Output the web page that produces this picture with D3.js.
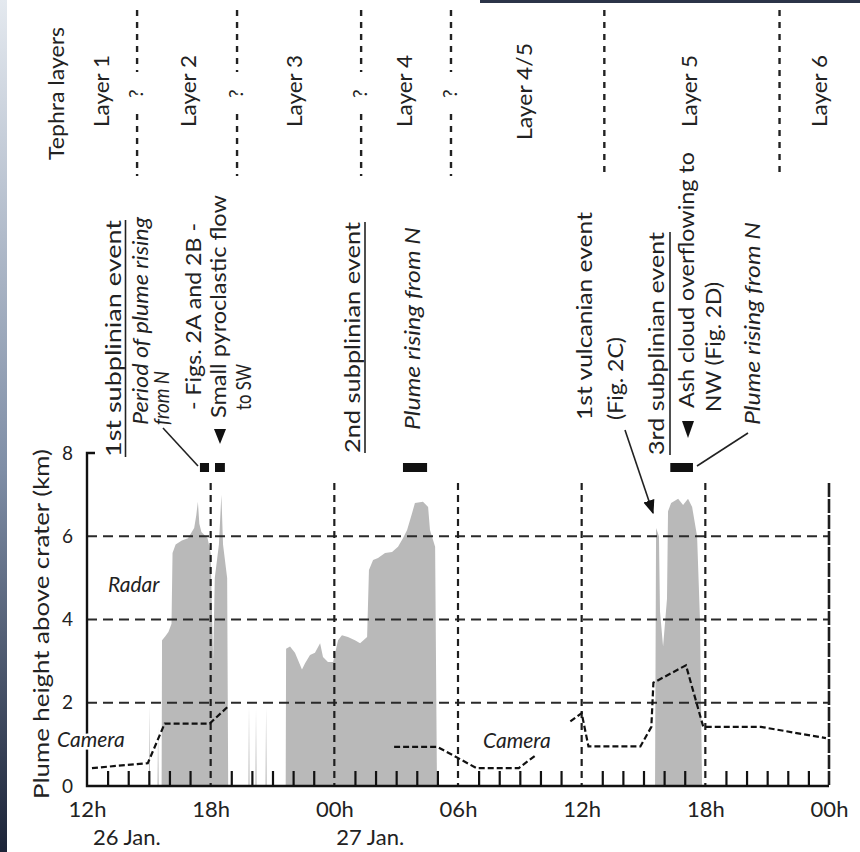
<!DOCTYPE html>
<html>
<head>
<meta charset="utf-8">
<script src="https://cdn.jsdelivr.net/npm/d3@7"></script>
<style>
    body { margin: 0; background: #fff; }
    svg text { font-family: Lato, 'Open Sans', sans-serif; fill: #222; }
</style>
</head>
<body>
<div id="vis"></div>
<script>
/* Plume height chart, 26-27 Jan. (hours counted from 12h on 26 Jan.) */

// x axis ticks
var hourTicks = [0, 6, 12, 18, 24, 30, 36];
var hourLabels = ['12h', '18h', '00h', '06h', '12h', '18h', '00h'];
var dayLabels = ['26 Jan.', '27 Jan.'];
var dayTicks = [0, 12];
var kmTicks = [0, 2, 4, 6, 8];

// tephra layers: boundaries (hours), "?" if uncertain, label centres
var layerNames = ['Layer 1', 'Layer 2', 'Layer 3', 'Layer 4', 'Layer 4/5', 'Layer 5', 'Layer 6'];
var layerBounds = [2.43, 7.28, 13.3, 17.66, 25.1, 33.6];
var layerUnsure = [true, true, true, true, false, false];

// black bars above the plot (start/end hours)
var barStart = [5.48, 6.21, 15.33, 28.3];
var barEnd = [5.92, 6.69, 16.5, 29.4];

// radar plume height [hour, km]
var radarEvent1 = [[3.0, 0], [3.03, 1.95], [3.06, 0], [3.42, 0], [3.45, 1.4], [3.48, 0],
    [3.62, 0], [3.64, 3.5], [3.8, 3.6], [3.95, 3.7], [4.1, 3.9], [4.15, 5.6], [4.3, 5.8],
    [4.6, 5.9], [4.9, 5.95], [5.2, 6.2], [5.3, 6.5], [5.38, 6.83], [5.45, 6.3], [5.55, 6.1],
    [5.85, 5.95], [6.0, 5.6], [6.12, 3.0], [6.2, 5.0], [6.4, 5.8], [6.52, 7.0], [6.6, 5.8],
    [6.8, 5.0], [6.85, 0]];
var radarSpikes = [[7.83, 0], [7.86, 1.95], [7.89, 0], [8.17, 0], [8.2, 1.85], [8.23, 0],
    [8.66, 0], [8.69, 1.9], [8.72, 0]];
var radarEvent2 = [[9.64, 0], [9.66, 3.3], [9.85, 3.35], [10.09, 3.2], [10.43, 2.8], [10.58, 2.95],
    [10.82, 3.15], [11.06, 3.2], [11.31, 3.43], [11.45, 3.1], [11.69, 2.98], [11.94, 2.98],
    [12.18, 3.5], [12.37, 3.62], [12.66, 3.58], [13.0, 3.5], [13.25, 3.43], [13.59, 3.58],
    [13.68, 5.19], [13.88, 5.43], [14.12, 5.48], [14.46, 5.6], [14.8, 5.62], [15.09, 5.75],
    [15.33, 5.95], [15.53, 6.15], [15.77, 6.55], [15.91, 6.8], [16.3, 6.83], [16.55, 6.7],
    [16.64, 6.15], [16.89, 5.75], [16.98, 0]];
var radarEvent3 = [[27.56, 0], [27.61, 6.2], [27.75, 6.0], [27.8, 4.2], [27.95, 3.35], [28.14, 4.5],
    [28.19, 6.6], [28.34, 6.8], [28.68, 6.9], [28.92, 6.75], [29.16, 6.9], [29.36, 6.7],
    [29.6, 6.0], [29.74, 4.0], [29.84, 0]];

// camera plume height [hour, km]
var cameraSeg1 = [[0.24, 0.43], [2.95, 0.55], [3.77, 1.5], [5.95, 1.5], [6.82, 1.9]];
var cameraSeg2 = [[14.9, 0.94], [17.0, 0.94], [18.9, 0.43], [20.95, 0.43], [21.8, 0.75]];
var cameraSeg3 = [[23.45, 1.55], [24.0, 1.75], [24.33, 0.95], [26.85, 0.95], [27.38, 1.42],
    [27.48, 2.48], [29.06, 2.9], [29.9, 1.42], [32.7, 1.42], [35.85, 1.15]];

var width = 860, height = 852;
var margin = { left: 87, right: 31, top: 453, bottom: 66 };

var svg = d3.select('#vis').append('svg')
    .attr('width', width)
    .attr('height', height);

// photo edge shading
var defs = svg.append('defs');
var grad = defs.append('linearGradient')
    .attr('id', 'edge').attr('x1', 0).attr('x2', 0).attr('y1', 0).attr('y2', 1);
grad.append('stop').attr('offset', '0').attr('stop-color', '#e4e9ef');
grad.append('stop').attr('offset', '0.55').attr('stop-color', '#7f8ea6');
grad.append('stop').attr('offset', '1').attr('stop-color', '#1c2438');
svg.append('rect').attr('x', 0).attr('y', 0).attr('width', 7).attr('height', height).attr('fill', 'url(#edge)');
svg.append('rect').attr('x', 480).attr('y', 0).attr('width', 380).attr('height', 3).attr('fill', '#2b3448');

var x = d3.scaleLinear().domain([0, 36]).range([margin.left, width - margin.right]);
var y = d3.scaleLinear().domain([0, 8]).range([height - margin.bottom, margin.top]);
var y0 = y(0);

// radar areas
var area = d3.area()
    .x(function(d) { return x(d[0]); })
    .y0(y0)
    .y1(function(d) { return y(d[1]); });

svg.selectAll('.radar')
    .data([radarEvent1, radarSpikes, radarEvent2, radarEvent3])
    .enter().append('path')
    .attr('class', 'radar')
    .attr('d', area)
    .attr('fill', '#b9b9b9');

// grid lines
svg.selectAll('.hgrid')
    .data([2, 4, 6])
    .enter().append('line')
    .attr('x1', x(0)).attr('x2', x(36))
    .attr('y1', function(d) { return y(d); })
    .attr('y2', function(d) { return y(d); })
    .attr('stroke', '#2a2a2a')
    .attr('stroke-width', 2.2)
    .attr('stroke-dasharray', '10,6');

svg.selectAll('.vgrid')
    .data([6, 12, 18, 24, 30, 36])
    .enter().append('line')
    .attr('x1', function(d) { return x(d); })
    .attr('x2', function(d) { return x(d); })
    .attr('y1', 483).attr('y2', y0)
    .attr('stroke', '#1e1e1e')
    .attr('stroke-width', function(d) { return d == 36 ? 2.6 : 2.2; })
    .attr('stroke-dasharray', function(d) { return d == 36 ? '14,2' : '7,5'; });

// camera lines
var line = d3.line()
    .x(function(d) { return x(d[0]); })
    .y(function(d) { return y(d[1]); });

svg.selectAll('.camera')
    .data([cameraSeg1, cameraSeg2, cameraSeg3])
    .enter().append('path')
    .attr('d', line)
    .attr('fill', 'none')
    .attr('stroke', '#111')
    .attr('stroke-width', 2.2)
    .attr('stroke-dasharray', '6,3');

// hourly ticks
var minorHours = d3.range(1, 36).filter(function(h) { return h % 6 != 0; });
svg.append('g')
    .attr('transform', 'translate(0,' + y0 + ')')
    .call(d3.axisBottom(x).tickValues(minorHours).tickSize(-15).tickFormat(''))
    .call(function(g) {
        g.select('.domain').remove();
        g.selectAll('line').attr('stroke', '#111').attr('stroke-width', 2.2);
    });

// x axis
var xAxis = svg.append('g')
    .attr('transform', 'translate(0,' + y0 + ')')
    .call(d3.axisBottom(x).tickValues(hourTicks).tickSize(0).tickPadding(15)
        .tickFormat(function(d, i) { return hourLabels[i]; }));
xAxis.select('.domain').remove();
xAxis.selectAll('text').style('font-size', '22px').attr('fill', '#333');

svg.selectAll('.day')
    .data(dayLabels)
    .enter().append('text')
    .attr('x', function(d, i) { return x(dayTicks[i]) + (i == 0 ? 6 : 2); })
    .attr('y', 845)
    .style('font-size', '22px')
    .text(function(d) { return d; });

// y axis
var yAxis = svg.append('g')
    .attr('transform', 'translate(' + x(0) + ',0)')
    .call(d3.axisLeft(y).tickValues(kmTicks).tickSize(0).tickPadding(14));
yAxis.select('.domain').remove();
yAxis.selectAll('text').style('font-size', '19px').attr('fill', '#333');

svg.append('path')
    .attr('d', 'M' + (x(0) + 8) + ',' + y(8) + 'H' + x(0) + 'V' + y0 + 'H' + x(36))
    .attr('fill', 'none')
    .attr('stroke', '#111')
    .attr('stroke-width', 2.4);

svg.append('text')
    .attr('transform', 'translate(49,' + 624 + ') rotate(-90)')
    .attr('text-anchor', 'middle')
    .attr('textLength', 350)
    .attr('lengthAdjust', 'spacingAndGlyphs')
    .style('font-size', '22px')
    .text('Plume height above crater (km)');

// rotated text helper: starts at (px, py) and reads upwards
var vtext = function(px, py, str, len, italic) {
    var t = svg.append('text')
        .attr('transform', 'translate(' + px + ',' + py + ') rotate(-90)')
        .style('font-size', '21px')
        .style('font-style', italic ? 'italic' : null)
        .text(str);
    if (len) t.attr('textLength', len).attr('lengthAdjust', 'spacingAndGlyphs');
    return t;
};

// tephra layers header
vtext(64, 160, 'Tephra layers', 133);
var layerBase = [109, 196, 302, 412, 532, 697, 827];
layerNames.forEach(function(name, i) {
    vtext(layerBase[i], name == 'Layer 4/5' ? 140 : 127, name, name == 'Layer 4/5' ? 97 : 72);
});
layerBounds.forEach(function(h, i) {
    var bx = x(h);
    if (layerUnsure[i]) {
        svg.append('line').attr('x1', bx).attr('x2', bx).attr('y1', 10).attr('y2', 72)
            .attr('stroke', '#222').attr('stroke-width', 2.4).attr('stroke-dasharray', '6,6');
        svg.append('line').attr('x1', bx).attr('x2', bx).attr('y1', 114).attr('y2', 176)
            .attr('stroke', '#222').attr('stroke-width', 2.4).attr('stroke-dasharray', '6,6');
        vtext(bx + 6, 98, '?', null).style('font-size', '19px');
    } else {
        svg.append('line').attr('x1', bx).attr('x2', bx).attr('y1', 10).attr('y2', 178)
            .attr('stroke', '#222').attr('stroke-width', 2.4).attr('stroke-dasharray', '6,6');
    }
});

// black bars
svg.selectAll('.bar')
    .data(barStart)
    .enter().append('rect')
    .attr('x', function(d) { return x(d); })
    .attr('width', function(d, i) { return x(barEnd[i]) - x(d); })
    .attr('y', 463)
    .attr('height', 9)
    .attr('fill', '#111');

// annotations
var underline = function(px, y1, y2) {
    svg.append('line').attr('x1', px).attr('x2', px).attr('y1', y1).attr('y2', y2)
        .attr('stroke', '#222').attr('stroke-width', 1.6);
};
var lead = function(x1, y1, x2, y2) {
    return svg.append('line').attr('x1', x1).attr('y1', y1).attr('x2', x2).attr('y2', y2)
        .attr('stroke', '#222').attr('stroke-width', 1.6);
};
var tri = function(cx, ty, by) {
    svg.append('path')
        .attr('d', 'M' + (cx - 6) + ',' + ty + 'L' + (cx + 6) + ',' + ty + 'L' + cx + ',' + by + 'Z')
        .attr('fill', '#111');
};

vtext(121, 457, '1st subplinian event', 237);
underline(125.5, 220, 457);
vtext(148, 425, 'Period of plume rising', 208, true);
vtext(169, 425, 'from N', 54, true);
lead(163, 428, 198, 466);
vtext(201, 410, '- Figs. 2A and 2B -', 187);
tri(220, 429, 444);
vtext(226, 418, 'Small pyroclastic flow', 223);
vtext(251, 410, 'to SW', 46);

vtext(360, 453, '2nd subplinian event', 231);
underline(365, 222, 453);
vtext(420, 430, 'Plume rising from N', 203, true);

vtext(592, 420, '1st vulcanian event', 208);
vtext(623, 420, '(Fig. 2C)', 83);
defs.append('marker')
    .attr('id', 'arrow').attr('viewBox', '0 0 10 10').attr('refX', 9).attr('refY', 5)
    .attr('markerWidth', 9).attr('markerHeight', 9).attr('orient', 'auto')
    .append('path').attr('d', 'M0,1L10,5L0,9Z').attr('fill', '#111');
lead(625, 430, 653, 513).attr('marker-end', 'url(#arrow)');

vtext(664, 455, '3rd subplinian event', 223);
underline(670, 232, 455);
tri(688, 421, 438);
vtext(694, 408, 'Ash cloud overflowing to', 256);
vtext(721, 412, 'NW (Fig. 2D)', 130);
vtext(760, 425, 'Plume rising from N', 203, true);
lead(748, 433, 697, 466);

// series labels
var label = function(px, py, str) {
    svg.append('text')
        .attr('x', px).attr('y', py)
        .style('font-size', '21px')
        .style('font-style', 'italic')
        .attr('stroke', '#fff').attr('stroke-width', 5)
        .style('paint-order', 'stroke')
        .text(str);
};
label(108, 592, 'Radar');
label(57, 747, 'Camera');
label(483, 748, 'Camera');
</script>
</body>
</html>
